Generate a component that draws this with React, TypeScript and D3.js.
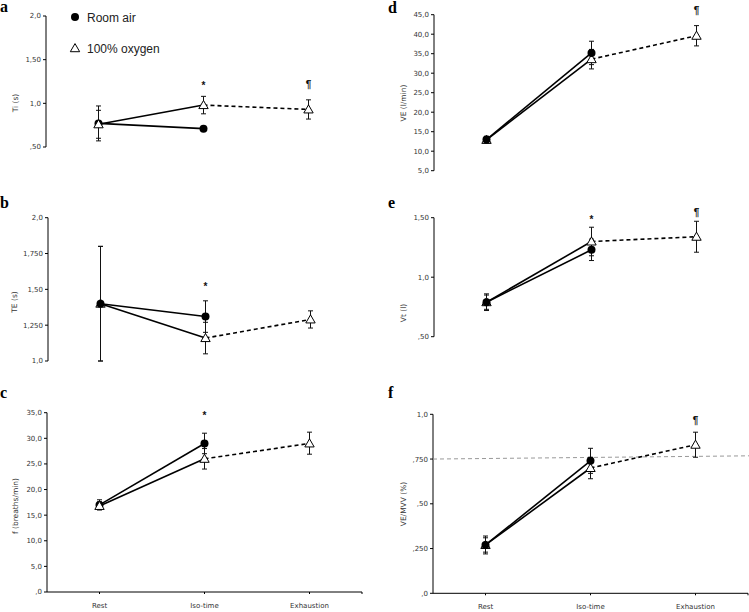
import React from "react";
import * as d3 from "d3";

const categories = ["Rest", "Iso-time", "Exhaustion"];

// a: Ti (s)
const tiRoom = [0.77, 0.71];
const tiRoomLo = [0.57, 0.7];
const tiRoomHi = [0.97, 0.72];
const tiO2 = [0.76, 0.98, 0.93];
const tiO2Lo = [0.6, 0.88, 0.82];
const tiO2Hi = [0.92, 1.08, 1.04];
const tiTicks = [0.5, 1.0, 1.5, 2.0];
const tiTickLabels = [",50", "1,0", "1,50", "2,0"];

// b: TE (s)
const teRoom = [1.4, 1.31];
const teRoomLo = [1.0, 1.2];
const teRoomHi = [1.8, 1.42];
const teO2 = [1.4, 1.16, 1.29];
const teO2Lo = [1.0, 1.05, 1.23];
const teO2Hi = [1.8, 1.27, 1.35];
const teTicks = [1.0, 1.25, 1.5, 1.75, 2.0];
const teTickLabels = ["1,0", "1,250", "1,50", "1,750", "2,0"];

// c: f (breaths/min)
const fRoom = [17.0, 29.0];
const fRoomLo = [16.0, 27.0];
const fRoomHi = [18.0, 31.0];
const fO2 = [16.8, 26.0, 29.0];
const fO2Lo = [16.2, 24.0, 26.9];
const fO2Hi = [17.6, 28.0, 31.2];
const fTicks = [0, 5, 10, 15, 20, 25, 30, 35];
const fTickLabels = [",0", "5,0", "10,0", "15,0", "20,0", "25,0", "30,0", "35,0"];

// d: VE (l/min)
const veRoom = [13.0, 35.2];
const veRoomLo = [12.2, 32.2];
const veRoomHi = [13.8, 38.2];
const veO2 = [12.9, 33.6, 39.6];
const veO2Lo = [12.0, 31.1, 37.0];
const veO2Hi = [13.8, 36.1, 42.2];
const veTicks = [5, 10, 15, 20, 25, 30, 35, 40, 45];
const veTickLabels = ["5,0", "10,0", "15,0", "20,0", "25,0", "30,0", "35,0", "40,0", "45,0"];

// e: Vt (l)
const vtRoom = [0.79, 1.23];
const vtRoomLo = [0.72, 1.14];
const vtRoomHi = [0.86, 1.32];
const vtO2 = [0.79, 1.3, 1.34];
const vtO2Lo = [0.73, 1.18, 1.21];
const vtO2Hi = [0.85, 1.42, 1.47];
const vtTicks = [0.5, 1.0, 1.5];
const vtTickLabels = [",50", "1,0", "1,50"];

// f: VE/MVV (%)
const mvvRoom = [0.27, 0.74];
const mvvRoomLo = [0.22, 0.67];
const mvvRoomHi = [0.32, 0.81];
const mvvO2 = [0.27, 0.7, 0.83];
const mvvO2Lo = [0.23, 0.64, 0.76];
const mvvO2Hi = [0.31, 0.76, 0.9];
const mvvTicks = [0, 0.25, 0.5, 0.75, 1.0];
const mvvTickLabels = [",0", ",250", ",50", ",750", "1,0"];
const mvvRefLine = [0.75, 0.768];

// significance marks: [symbol, category index, y value]
const tiNotes: [string, number, number][] = [["*", 1, 1.23], ["¶", 2, 1.22]];
const teNotes: [string, number, number][] = [["*", 1, 1.535]];
const fNotes: [string, number, number][] = [["*", 1, 34.8]];
const veNotes: [string, number, number][] = [["¶", 2, 46.3]];
const vtNotes: [string, number, number][] = [["*", 1, 1.5], ["¶", 2, 1.55]];
const mvvNotes: [string, number, number][] = [["¶", 2, 0.97]];

const legendLabels = ["Room air", "100% oxygen"];

type Panel = {
  letter: string;
  lx: number;
  ly: number;
  title: string;
  titleX: number;
  titleY: number;
  axisX: number;
  yTop: number;
  yBottom: number;
  ticks: number[];
  tickLabels: string[];
  room: number[];
  roomLo: number[];
  roomHi: number[];
  o2: number[];
  o2Lo: number[];
  o2Hi: number[];
  notes: [string, number, number][];
  xAxis: boolean;
  o2OnTop: boolean;
  refLine?: number[];
  legend?: boolean;
};

const panels: Panel[] = [
  { letter: "a", lx: 0, ly: 12, title: "Ti (s)", titleX: 15, titleY: 103, axisX: 46, yTop: 16, yBottom: 147, ticks: tiTicks, tickLabels: tiTickLabels, room: tiRoom, roomLo: tiRoomLo, roomHi: tiRoomHi, o2: tiO2, o2Lo: tiO2Lo, o2Hi: tiO2Hi, notes: tiNotes, xAxis: false, o2OnTop: true, legend: true },
  { letter: "b", lx: 0, ly: 208, title: "TE (s)", titleX: 14, titleY: 302, axisX: 48, yTop: 217.7, yBottom: 361, ticks: teTicks, tickLabels: teTickLabels, room: teRoom, roomLo: teRoomLo, roomHi: teRoomHi, o2: teO2, o2Lo: teO2Lo, o2Hi: teO2Hi, notes: teNotes, xAxis: false, o2OnTop: false },
  { letter: "c", lx: 0, ly: 398, title: "f (breaths/min)", titleX: 15, titleY: 506, axisX: 47, yTop: 412.7, yBottom: 592, ticks: fTicks, tickLabels: fTickLabels, room: fRoom, roomLo: fRoomLo, roomHi: fRoomHi, o2: fO2, o2Lo: fO2Lo, o2Hi: fO2Hi, notes: fNotes, xAxis: true, o2OnTop: true },
  { letter: "d", lx: 388, ly: 13, title: "VE (l/min)", titleX: 403, titleY: 103, axisX: 434, yTop: 14.7, yBottom: 170.7, ticks: veTicks, tickLabels: veTickLabels, room: veRoom, roomLo: veRoomLo, roomHi: veRoomHi, o2: veO2, o2Lo: veO2Lo, o2Hi: veO2Hi, notes: veNotes, xAxis: false, o2OnTop: false },
  { letter: "e", lx: 388, ly: 208, title: "Vt (l)", titleX: 403, titleY: 313, axisX: 434, yTop: 217.7, yBottom: 336.7, ticks: vtTicks, tickLabels: vtTickLabels, room: vtRoom, roomLo: vtRoomLo, roomHi: vtRoomHi, o2: vtO2, o2Lo: vtO2Lo, o2Hi: vtO2Hi, notes: vtNotes, xAxis: false, o2OnTop: false },
  { letter: "f", lx: 388, ly: 398, title: "VE/MVV (%)", titleX: 403, titleY: 504, axisX: 433, yTop: 414.3, yBottom: 593.3, ticks: mvvTicks, tickLabels: mvvTickLabels, room: mvvRoom, roomLo: mvvRoomLo, roomHi: mvvRoomHi, o2: mvvO2, o2Lo: mvvO2Lo, o2Hi: mvvO2Hi, notes: mvvNotes, xAxis: true, o2OnTop: false, refLine: mvvRefLine },
];

const tickFont = "'DejaVu Sans', sans-serif";
const triPath = d3.symbol().type(d3.symbolTriangle).size(38)() as string;

function PanelView({ p }: { p: Panel }) {
  const x = d3.scalePoint<string>().domain(categories).range([p.axisX, p.axisX + 315]).padding(0.5);
  const domain = [p.ticks[0], p.ticks[p.ticks.length - 1]];
  const y = d3.scaleLinear().domain(domain).range([p.yBottom, p.yTop]);
  const line = d3
    .line<number>()
    .x((_, i) => x(categories[i]) as number)
    .y((v) => y(v));
  const segLine = (vals: number[], from: number) =>
    d3
      .line<number>()
      .x((_, i) => x(categories[i + from]) as number)
      .y((v) => y(v))(vals) as string;

  const errBars = (vals: number[], lo: number[], hi: number[], key: string) =>
    vals.map((_, i) => {
      const cx = x(categories[i]) as number;
      return (
        <g key={key + i} stroke="#111" strokeWidth={1}>
          <line x1={cx} x2={cx} y1={y(lo[i])} y2={y(hi[i])} />
          <line x1={cx - 2.5} x2={cx + 2.5} y1={y(lo[i])} y2={y(lo[i])} />
          <line x1={cx - 2.5} x2={cx + 2.5} y1={y(hi[i])} y2={y(hi[i])} />
        </g>
      );
    });

  const roomMarks = p.room.map((v, i) => (
    <circle key={"r" + i} cx={x(categories[i]) as number} cy={y(v)} r={4} fill="#000" />
  ));
  const o2Marks = p.o2.map((v, i) => (
    <path
      key={"o" + i}
      d={triPath}
      transform={`translate(${x(categories[i])},${y(v) + 0.8})`}
      fill="#fff"
      stroke="#000"
      strokeWidth={1}
    />
  ));

  const xEnd = p.axisX + 315;

  return (
    <g>
      <text x={p.lx} y={p.ly} fontFamily="'Liberation Serif', serif" fontWeight="bold" fontSize={16} fill="#000">
        {p.letter}
      </text>
      {/* y axis */}
      <line x1={p.axisX} x2={p.axisX} y1={p.yTop} y2={p.yBottom} stroke="#000" strokeWidth={1} />
      {p.ticks.map((t, i) => (
        <g key={"t" + i}>
          <line x1={p.axisX - 3} x2={p.axisX} y1={y(t)} y2={y(t)} stroke="#000" strokeWidth={1} />
          <text
            x={p.axisX - 5}
            y={y(t)}
            dy="0.35em"
            textAnchor="end"
            fontFamily={tickFont}
            fontSize={7}
            fill="#333"
          >
            {p.tickLabels[i]}
          </text>
        </g>
      ))}
      <text
        transform={`translate(${p.titleX},${p.titleY}) rotate(-90)`}
        textAnchor="middle"
        dy="0.35em"
        fontFamily={tickFont}
        fontSize={7.5}
        fill="#333"
      >
        {p.title}
      </text>
      {p.xAxis && (
        <g>
          <line x1={p.axisX} x2={xEnd} y1={p.yBottom} y2={p.yBottom} stroke="#000" strokeWidth={1} />
          <line x1={xEnd} x2={xEnd} y1={p.yBottom} y2={p.yBottom + 2} stroke="#000" strokeWidth={1} />
          {categories.map((c) => (
            <g key={c}>
              <line x1={x(c) as number} x2={x(c) as number} y1={p.yBottom} y2={p.yBottom + 2} stroke="#000" strokeWidth={1} />
              <text x={x(c) as number} y={p.yBottom + 16} textAnchor="middle" fontFamily={tickFont} fontSize={7} fill="#333">
                {c}
              </text>
            </g>
          ))}
        </g>
      )}
      {p.refLine && (
        <line
          x1={p.axisX}
          x2={749}
          y1={y(p.refLine[0])}
          y2={y(p.refLine[1])}
          stroke="#999"
          strokeWidth={1}
          strokeDasharray="4,3"
        />
      )}
      {/* lines */}
      <path d={line(p.room) as string} fill="none" stroke="#000" strokeWidth={1.6} />
      <path d={segLine(p.o2.slice(0, 2), 0)} fill="none" stroke="#000" strokeWidth={1.6} />
      <path d={segLine(p.o2.slice(1, 3), 1)} fill="none" stroke="#000" strokeWidth={1.6} strokeDasharray="4,3" />
      {errBars(p.room, p.roomLo, p.roomHi, "er")}
      {errBars(p.o2, p.o2Lo, p.o2Hi, "eo")}
      {p.o2OnTop ? (
        <>
          {roomMarks}
          {o2Marks}
        </>
      ) : (
        <>
          {o2Marks}
          {roomMarks}
        </>
      )}
      {p.notes.map(([s, ci, v], i) => (
        <text
          key={"n" + i}
          x={x(categories[ci]) as number}
          y={y(v) + (s === "*" ? 5.5 : 4)}
          textAnchor="middle"
          fontFamily="'Liberation Sans', Arial, sans-serif"
          fontWeight="bold"
          fontSize={10}
          fill="#111"
        >
          {s}
        </text>
      ))}
      {p.legend && (
        <g>
          <circle cx={75} cy={17} r={4} fill="#000" />
          <text x={87} y={21.5} fontFamily="'Liberation Sans', Arial, sans-serif" fontSize={12} fill="#222">
            {legendLabels[0]}
          </text>
          <path d={triPath} transform="translate(75,49)" fill="#fff" stroke="#000" strokeWidth={1} />
          <text x={87} y={52.5} fontFamily="'Liberation Sans', Arial, sans-serif" fontSize={12} fill="#222">
            {legendLabels[1]}
          </text>
        </g>
      )}
    </g>
  );
}

export default function App() {
  return (
    <svg
      width={749}
      height={612}
      style={{ position: "absolute", left: 0, top: 0, background: "#fff" }}
    >
      <rect width={749} height={612} fill="#fff" />
      {panels.map((p) => (
        <PanelView key={p.letter} p={p} />
      ))}
    </svg>
  );
}
